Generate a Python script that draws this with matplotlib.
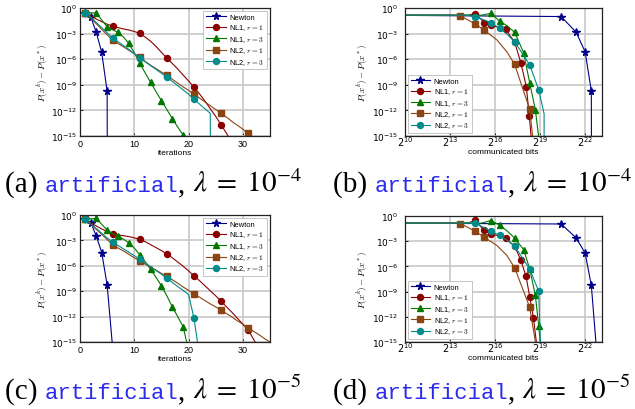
import numpy as np
import matplotlib
matplotlib.use("Agg")
import matplotlib.pyplot as plt
from matplotlib.ticker import FixedLocator, FixedFormatter, NullLocator

plt.rcParams['font.family'] = ['Liberation Sans', 'DejaVu Sans']
plt.rcParams['mathtext.fontset'] = 'dejavusans'

# ---------------- data (values are log10 of P(x^k)-P(x*)) ----------------
series_names = ["Newton", "NL1, $r=1$", "NL1, $r=3$", "NL2, $r=1$", "NL2, $r=3$"]

# panel (a): lambda = 1e-4, x = iterations 1..n
a_newton = [-0.55, -1.06, -2.87, -5.2, -9.77, -300]
a_nl1_r1 = [-0.55, -0.9, -1.3, -1.6, -1.9, -2.12, -2.3, -2.45, -2.58, -2.75, -2.98,
            -3.4, -3.9, -4.5, -5.2, -5.85, -6.5, -7.15, -7.85, -8.55, -9.3,
            -10.05, -10.9, -11.8, -12.7, -13.7, -14.7, -15.8]
a_nl1_r3 = [-0.55, -0.55, -0.6, -1.4, -2.2, -2.55, -2.85, -3.4, -4.15, -5.25, -6.45,
            -7.6, -8.7, -9.8, -10.85, -11.9, -12.95, -13.95, -14.9, -16.0]
a_nl2_r1 = [-0.55, -1.2, -1.85, -2.5, -3.15, -3.75, -4.15, -4.55, -4.95, -5.35, -5.8,
            -6.25, -6.7, -7.1, -7.5, -7.9, -8.35, -8.8, -9.25, -9.65, -10.1,
            -10.55, -11.0, -11.45, -11.9, -12.35, -12.8, -13.3, -13.75, -14.2, -14.7, -15.2]
a_nl2_r3 = [-0.55, -1.1, -1.7, -2.3, -2.9, -3.5, -3.95, -4.4, -4.85, -5.35, -5.85,
            -6.3, -6.75, -7.2, -7.65, -8.1, -8.6, -9.1, -9.6, -10.1, -10.7,
            -11.25, -11.8, -12.35, -300]

# panel (c): lambda = 1e-5
c_newton = [-0.51, -0.9, -2.5, -4.43, -8.25, -15.6]
c_nl1_r1 = [-0.5, -0.9, -1.3, -1.65, -1.95, -2.2, -2.35, -2.45, -2.55, -2.7, -2.86,
            -3.15, -3.5, -3.85, -4.2, -4.6, -5.05, -5.55, -6.05, -6.6, -7.2,
            -7.75, -8.35, -8.95, -9.55, -10.2, -10.85, -11.5, -12.2, -12.9, -13.6,
            -14.7, -15.8]
c_nl1_r3 = [-0.5, -0.45, -0.4, -1.1, -1.78, -2.2, -2.47, -2.85, -3.3, -3.9, -4.7,
            -5.5, -6.43, -7.35, -8.37, -9.55, -10.85, -12.0, -13.2, -16.0]
c_nl2_r1 = [-0.5, -1.1, -1.7, -2.3, -2.9, -3.5, -3.9, -4.25, -4.65, -5.05, -5.41,
            -5.8, -6.15, -6.5, -6.9, -7.25, -7.65, -8.05, -8.5, -8.9, -9.32,
            -9.7, -10.1, -10.5, -10.85, -11.24, -11.65, -12.05, -12.5, -12.9, -13.32,
            -13.75, -14.15, -14.6, -15.0, -15.4]
c_nl2_r3 = [-0.5, -1.05, -1.6, -2.15, -2.7, -3.21, -3.6, -4.0, -4.4, -4.8, -5.21,
            -5.65, -6.1, -6.55, -7.0, -7.48, -7.95, -8.45, -8.9, -9.4, -12.2, -16.6]

iter_markevery = [1, 5, 2, 5, 5]

# panel (b): lambda = 1e-4, x = log2(communicated bits)
b_newton_bits = [8, 20.38, 21.38, 21.98, 22.39, 22.72]
b_newton_vals = [-0.84, -1.0, -2.83, -5.15, -9.72, -300]
b_nl1_r1_bits = [8, 14.2, 14.67, 15.27, 15.71, 16.2, 16.69, 17.29, 17.71, 18.07, 18.27, 18.45]
b_nl1_r1_vals = [-0.84, -0.84, -0.66, -1.7, -2.0, -2.25, -2.5, -4.0, -6.47, -9.25, -12.7, -16.5]
b_nl1_r3_bits = [8, 15.1, 15.71, 16.29, 16.8, 17.29, 17.89, 18.29, 18.67, 18.95]
b_nl1_r3_vals = [-0.84, -0.84, -0.62, -1.53, -2.1, -2.85, -5.25, -8.77, -11.95, -16.0]
b_nl2_r1_bits = [8, 13.0, 13.69, 14.68, 15.28, 16.11, 16.78, 17.29, 18.29, 18.55]
b_nl2_r1_vals = [-0.84, -0.84, -0.92, -1.88, -2.61, -3.74, -5.15, -6.6, -11.88, -16.0]
b_nl2_r3_bits = [8, 14.0, 14.68, 15.69, 16.29, 16.8, 17.3, 18.29, 18.89, 19.25, 19.27]
b_nl2_r3_vals = [-0.84, -0.84, -1.0, -1.7, -2.37, -3.1, -3.98, -6.65, -9.6, -12.4, -300]
b_marks = [[1, 2, 3, 4], [2, 3, 4, 6, 7, 8, 9, 10], [2, 3, 5, 6, 7, 8],
           [2, 3, 4, 7, 8], [2, 3, 4, 6, 7, 8]]

# panel (d): lambda = 1e-5
d_newton_bits = [8, 20.38, 21.38, 21.98, 22.39, 22.72]
d_newton_vals = [-0.84, -0.95, -2.6, -4.43, -8.25, -15.6]
d_nl1_r1_bits = [8, 14.2, 14.67, 15.25, 15.69, 16.2, 16.69, 17.29, 17.69, 18.05, 18.3, 18.54, 18.8]
d_nl1_r1_vals = [-0.84, -0.84, -0.5, -1.72, -2.11, -2.35, -2.63, -3.6, -5.19, -7.18, -9.69, -12.1, -16.0]
d_nl1_r3_bits = [8, 15.1, 15.71, 16.29, 16.8, 17.29, 17.89, 18.29, 18.67, 18.89, 19.05]
d_nl1_r3_vals = [-0.84, -0.84, -0.54, -1.08, -1.8, -2.63, -3.99, -6.3, -9.45, -13.1, -16.0]
d_nl2_r1_bits = [8, 13.0, 13.69, 14.68, 15.28, 16.11, 16.78, 17.3, 18.29, 18.7]
d_nl2_r1_vals = [-0.84, -0.84, -0.9, -1.83, -2.53, -3.51, -4.71, -6.2, -10.87, -15.3]
d_nl2_r3_bits = [8, 14.0, 14.68, 15.69, 16.29, 16.8, 17.3, 18.29, 18.89, 19.02]
d_nl2_r3_vals = [-0.84, -0.84, -0.86, -1.78, -2.31, -2.9, -3.62, -6.32, -8.95, -16.0]
d_marks = [[1, 2, 3, 4], [2, 3, 4, 6, 7, 8, 9, 10, 11], [2, 3, 5, 6, 7, 8, 9],
           [2, 3, 4, 7, 8], [2, 3, 4, 6, 7, 8]]

y_ticks = [1e-15, 1e-12, 1e-9, 1e-6, 1e-3, 1e0]
y_ticklabels = ['$10^{-15}$', '$10^{-12}$', '$10^{-9}$', '$10^{-6}$', '$10^{-3}$', '$10^{0}$']
x_iter_ticks = [0, 10, 20, 30]
x_bits_exp = [10, 13, 16, 19, 22]
x_bits_ticklabels = ['$2^{10}$', '$2^{13}$', '$2^{16}$', '$2^{19}$', '$2^{22}$']

captions = [("(a) ", "artificial", ", ", r"$\lambda\;=\;10^{-4}$"),
            ("(b) ", "artificial", ", ", r"$\lambda\;=\;10^{-4}$"),
            ("(c) ", "artificial", ", ", r"$\lambda\;=\;10^{-5}$"),
            ("(d) ", "artificial", ", ", r"$\lambda\;=\;10^{-5}$")]

# ---------------- styling ----------------
colors = ['#00008b', '#8b0000', '#007800', '#8b4513', '#008b8b']
markers = ['*', 'o', '^', 's', 'o']
msizes = [5.5, 4.3, 4.5, 4.2, 4.3]

W, H = 635, 410
fig = plt.figure(figsize=(W / 100, H / 100), dpi=100)


def px_axes(x0, y0, x1, y1):
    return fig.add_axes([x0 / W, 1 - y1 / H, (x1 - x0) / W, (y1 - y0) / H])


def style_axes(ax):
    ax.set_yscale('log')
    ax.set_ylim(1e-15, 1e0)
    ax.yaxis.set_major_locator(FixedLocator(y_ticks))
    ax.yaxis.set_major_formatter(FixedFormatter(y_ticklabels))
    ax.yaxis.set_minor_locator(NullLocator())
    ax.grid(True, color='#c8c8c8', lw=1.2)
    ax.set_axisbelow(True)
    ax.tick_params(direction='in', length=2, width=0.6, labelsize=6.5, pad=2)
    for s in ax.spines.values():
        s.set_linewidth(0.9)
        s.set_color('#222222')
    yl = ax.set_ylabel('$P(x^k) - P(x^*)$', fontsize=6.5, labelpad=1)
    yl.set_math_fontfamily('cm')


def legend(ax, loc):
    leg = ax.legend(loc=loc, fontsize=5.4, numpoints=1, handlelength=2.6,
                    borderpad=0.35, labelspacing=0.2, handletextpad=0.5,
                    borderaxespad=0.4, fancybox=False, framealpha=1,
                    edgecolor='#bbbbbb')
    leg.get_frame().set_linewidth(0.6)
    for t in leg.get_texts():
        t.set_math_fontfamily('cm')


def iter_panel(ax, data):
    for i, vals in enumerate(data):
        v = 10.0 ** np.array(vals)
        it = np.arange(1, len(v) + 1)
        ax.plot(it, v, color=colors[i], marker=markers[i], ms=msizes[i], lw=0.8,
                mec=colors[i], mfc=colors[i], markevery=iter_markevery[i],
                label=series_names[i])
    style_axes(ax)
    ax.set_xlim(0, 35)
    ax.xaxis.set_major_locator(FixedLocator(x_iter_ticks))
    ax.set_xlabel('iterations', fontsize=6, labelpad=1)
    legend(ax, 'upper right')


def bits_panel(ax, bits, vals, marks):
    for i in range(5):
        b = 2.0 ** np.array(bits[i])
        v = 10.0 ** np.array(vals[i])
        ax.plot(b, v, color=colors[i], marker=markers[i], ms=msizes[i], lw=0.8,
                mec=colors[i], mfc=colors[i], markevery=marks[i],
                label=series_names[i])
    style_axes(ax)
    ax.set_xscale('log', base=2)
    ax.set_xlim(2.0 ** 10, 2.0 ** 23.1)
    ax.xaxis.set_major_locator(FixedLocator([2.0 ** e for e in x_bits_exp]))
    ax.xaxis.set_major_formatter(FixedFormatter(x_bits_ticklabels))
    ax.xaxis.set_minor_locator(NullLocator())
    ax.tick_params(axis='x', labelsize=7, pad=-1.0)
    ax.tick_params(axis='y', pad=5)
    ax.set_xlabel('communicated bits', fontsize=6, labelpad=0)
    legend(ax, 'lower left')


axa = px_axes(80, 9, 270, 137)
iter_panel(axa, [a_newton, a_nl1_r1, a_nl1_r3, a_nl2_r1, a_nl2_r3])
axb = px_axes(405, 9, 602, 137)
bits_panel(axb, [b_newton_bits, b_nl1_r1_bits, b_nl1_r3_bits, b_nl2_r1_bits, b_nl2_r3_bits],
           [b_newton_vals, b_nl1_r1_vals, b_nl1_r3_vals, b_nl2_r1_vals, b_nl2_r3_vals], b_marks)
axc = px_axes(80, 216, 270, 343)
iter_panel(axc, [c_newton, c_nl1_r1, c_nl1_r3, c_nl2_r1, c_nl2_r3])
axd = px_axes(405, 217, 602, 343)
bits_panel(axd, [d_newton_bits, d_nl1_r1_bits, d_nl1_r3_bits, d_nl2_r1_bits, d_nl2_r3_bits],
           [d_newton_vals, d_nl1_r1_vals, d_nl1_r3_vals, d_nl2_r1_vals, d_nl2_r3_vals], d_marks)

# ---------------- captions ----------------
renderer = fig.canvas.get_renderer()


def caption(x_px, base_px, parts):
    x = x_px / W
    y = 1 - base_px / H
    styles = [dict(family='Liberation Serif', size=21, color='black'),
              dict(family='Liberation Mono', size=16, color='#2b2bf0'),
              dict(family='Liberation Serif', size=21, color='black'),
              dict(family='Liberation Serif', size=21, color='black')]
    for s, st in zip(parts, styles):
        t = fig.text(x, y, s, ha='left', va='baseline', fontfamily=st['family'],
                     fontsize=st['size'], color=st['color'])
        t.set_math_fontfamily('stix')
        w = t.get_window_extent(renderer).width
        x += w / W


caption(5, 192, captions[0])
caption(333, 192, captions[1])
caption(5, 399, captions[2])
caption(333, 399, captions[3])

fig.savefig('out.png', dpi=100)
